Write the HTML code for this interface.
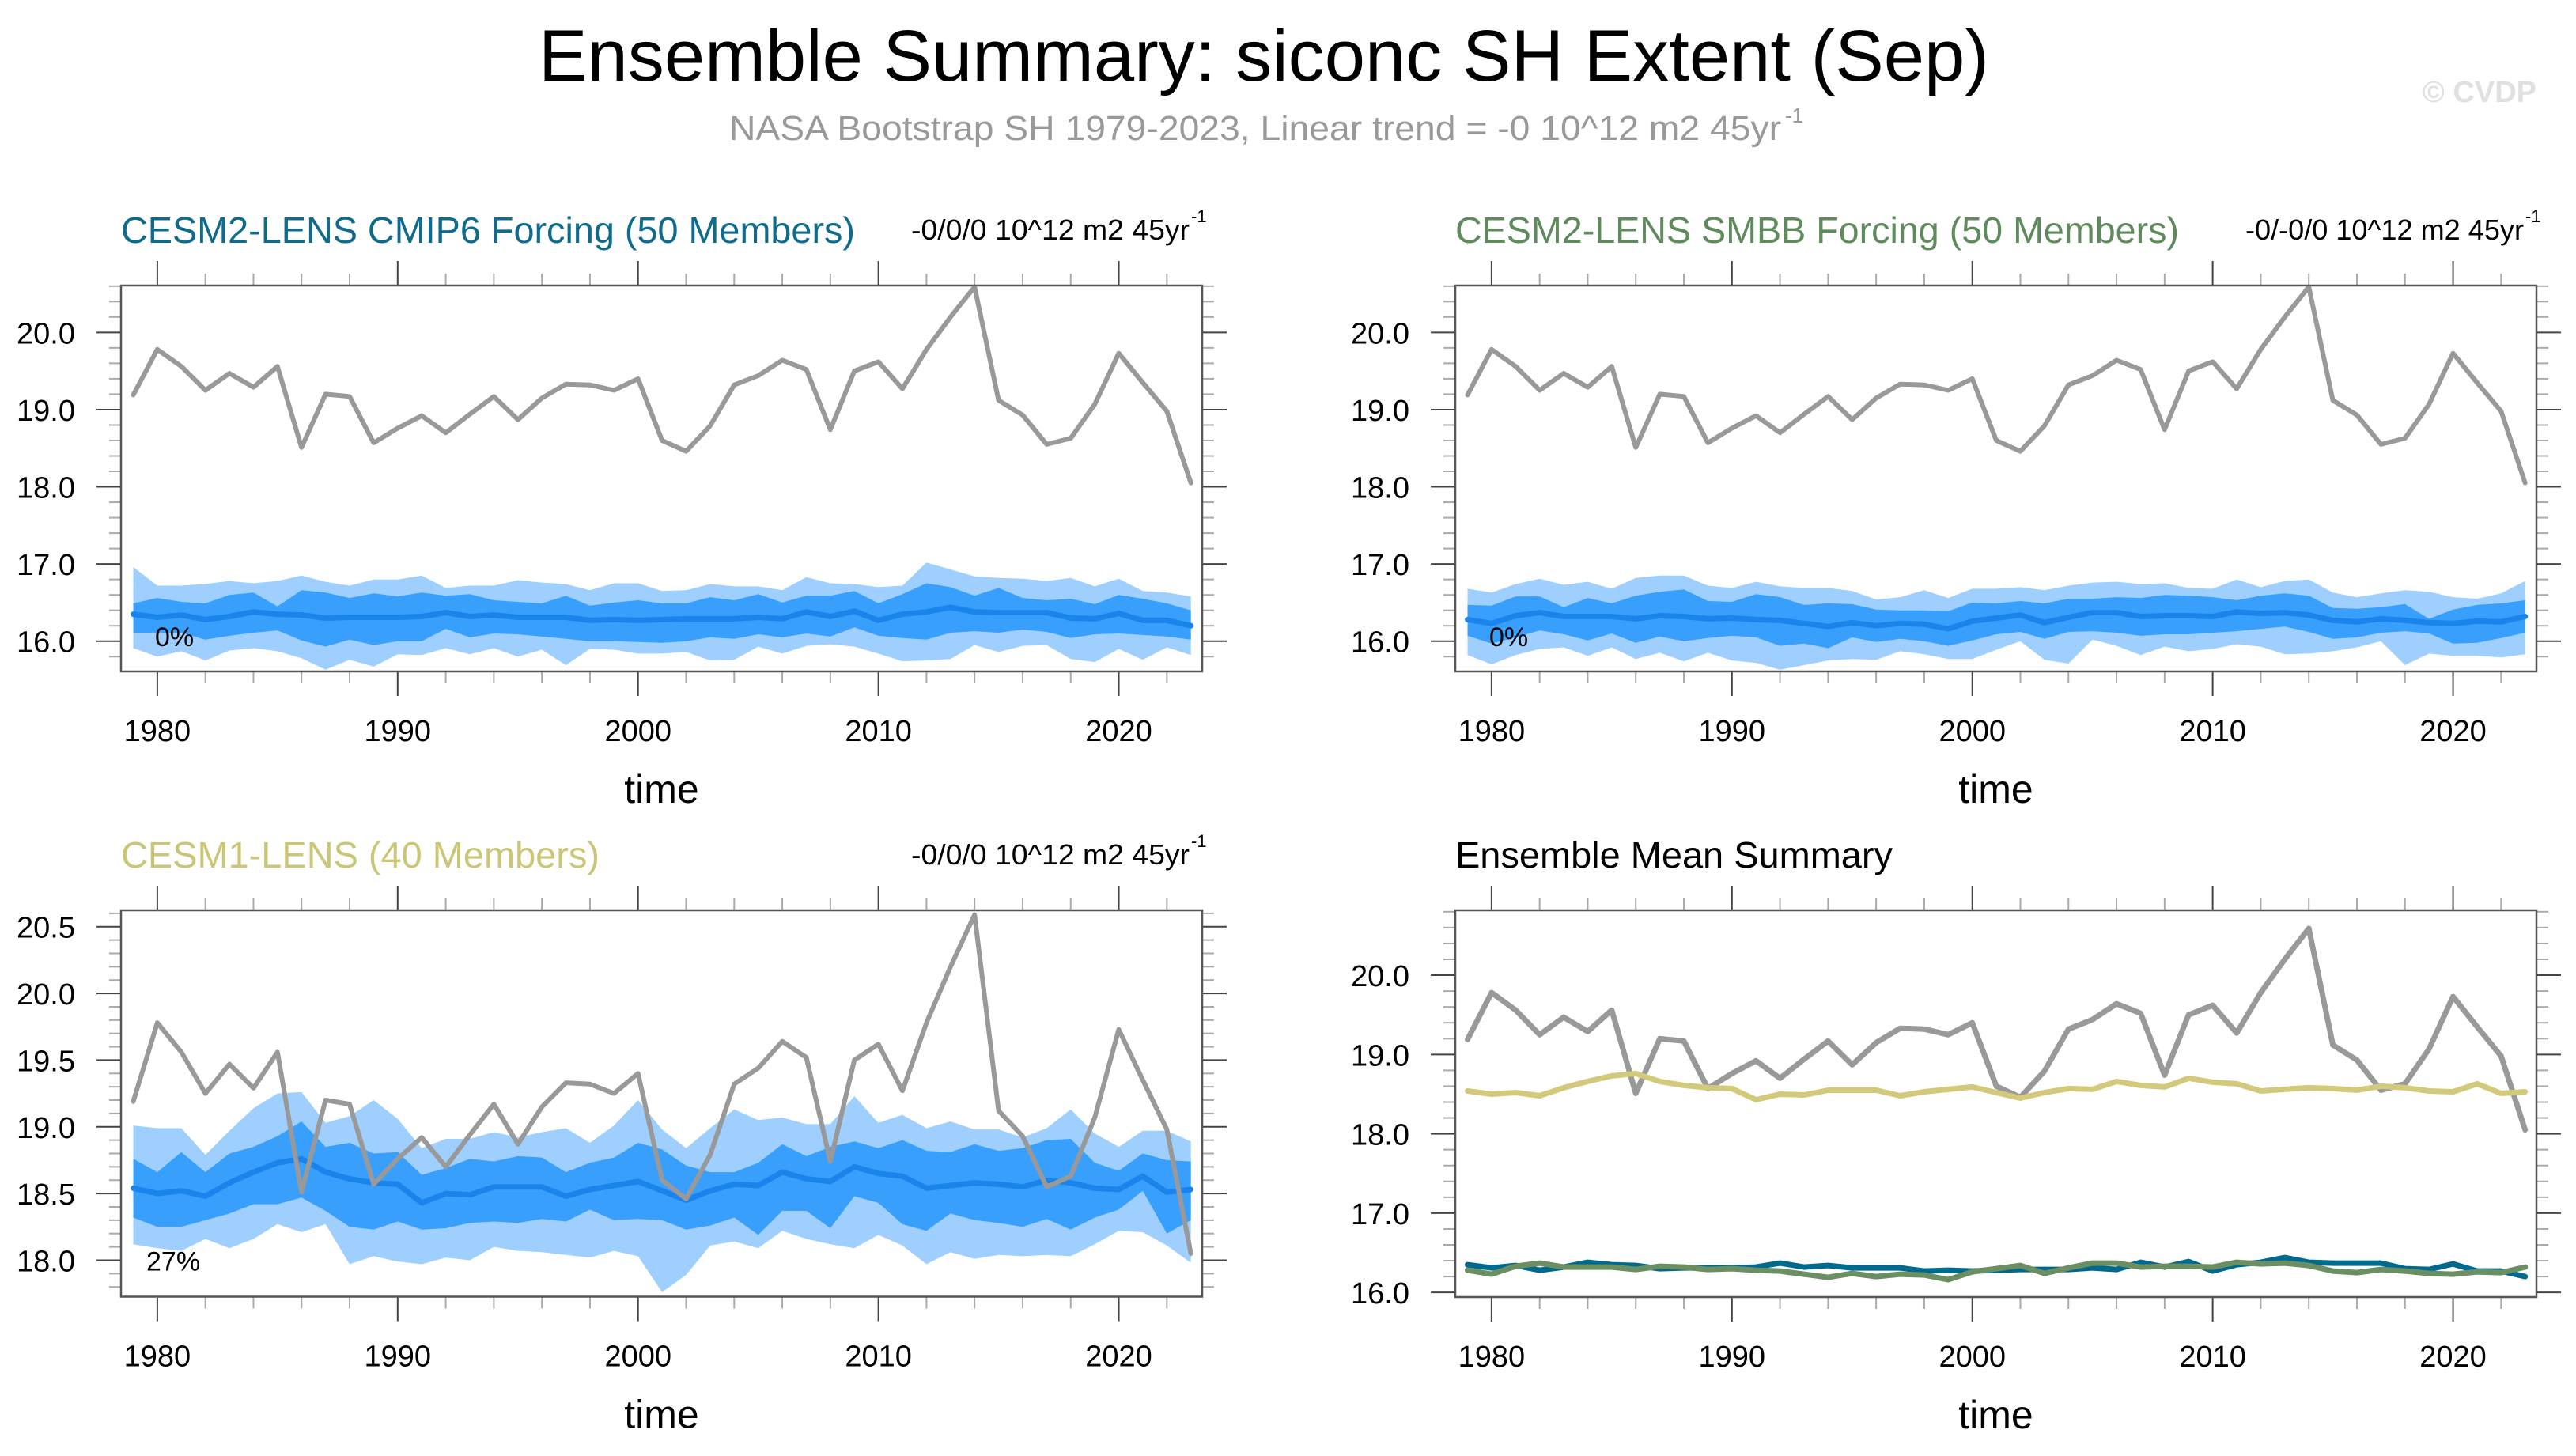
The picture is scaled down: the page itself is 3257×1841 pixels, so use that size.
<!DOCTYPE html>
<html><head><meta charset="utf-8"><style>
html,body{margin:0;padding:0;background:#fff;}
svg{display:block;font-family:"Liberation Sans",Arial,sans-serif;}
</style></head><body>
<svg id="chart" width="3257" height="1841" viewBox="0 0 3257 1841" xmlns="http://www.w3.org/2000/svg">
<rect width="3257" height="1841" fill="#fff"/>
<text x="1598" y="102" text-anchor="middle" font-size="92" fill="#000" textLength="1834" lengthAdjust="spacingAndGlyphs">Ensemble Summary: siconc SH Extent (Sep)</text>
<text x="922" y="177" font-size="44" fill="#999" textLength="1330" lengthAdjust="spacingAndGlyphs">NASA Bootstrap SH 1979-2023, Linear trend = -0 10^12 m2 45yr</text>
<text x="2257" y="155" font-size="26" fill="#999">-1</text>
<text x="3207" y="129" text-anchor="end" font-size="38" font-weight="bold" fill="#e0e0e0">© CVDP</text>
<g id="plots"></g>
</svg>
<script>
const years = [1979,1980,1981,1982,1983,1984,1985,1986,1987,1988,1989,1990,1991,1992,1993,1994,1995,1996,1997,1998,1999,2000,2001,2002,2003,2004,2005,2006,2007,2008,2009,2010,2011,2012,2013,2014,2015,2016,2017,2018,2019,2020,2021,2022,2023];
const obs = [19.19,19.78,19.56,19.25,19.47,19.29,19.56,18.51,19.20,19.17, 18.57,18.76,18.92,18.70,18.94,19.17,18.87,19.15,19.33,19.32, 19.25,19.40,18.60,18.46,18.79,19.32,19.44,19.64,19.52,18.74, 19.50,19.62,19.27,19.78,20.20,20.59,19.12,18.93,18.55,18.63, 19.07,19.73,19.35,18.98,18.05];

const cmip6Mean = [16.35,16.31,16.34,16.28,16.32,16.38,16.35,16.34,16.30,16.31, 16.31,16.31,16.32,16.37,16.32,16.34,16.31,16.31,16.31,16.27, 16.28,16.27,16.28,16.29,16.29,16.29,16.31,16.29,16.38,16.32, 16.39,16.27,16.35,16.38,16.44,16.38,16.37,16.37,16.37,16.30, 16.29,16.36,16.27,16.27,16.20];
const cmip6OuterHi = [16.96,16.72,16.72,16.74,16.78,16.75,16.78,16.85,16.77,16.72, 16.80,16.80,16.85,16.69,16.72,16.72,16.79,16.76,16.74,16.66, 16.75,16.75,16.65,16.66,16.74,16.71,16.71,16.66,16.83,16.75, 16.74,16.70,16.72,17.02,16.93,16.84,16.82,16.81,16.78,16.82, 16.71,16.81,16.65,16.63,16.58];
const cmip6InnerHi = [16.49,16.56,16.51,16.49,16.60,16.63,16.45,16.66,16.63,16.56, 16.62,16.58,16.63,16.59,16.61,16.53,16.51,16.49,16.59,16.46, 16.50,16.53,16.49,16.49,16.57,16.53,16.61,16.50,16.59,16.59, 16.65,16.49,16.61,16.75,16.70,16.59,16.69,16.56,16.53,16.55, 16.48,16.60,16.55,16.49,16.40];
const cmip6InnerLo = [16.11,16.11,16.11,16.02,16.07,16.11,16.14,16.01,15.93,16.02, 15.95,16.00,16.00,16.16,16.05,16.10,16.09,16.06,16.03,16.00, 16.00,15.99,15.98,16.00,16.05,16.03,16.09,16.05,16.10,16.06, 16.18,16.07,16.04,16.02,16.11,16.13,16.11,16.15,16.12,16.04, 16.09,16.10,16.08,16.06,16.02];
const cmip6OuterLo = [15.91,15.80,15.87,15.75,15.88,15.91,15.87,15.78,15.63,15.76, 15.67,15.83,15.82,15.91,15.83,15.91,15.80,15.89,15.69,15.90, 15.89,15.84,15.84,15.86,15.75,15.76,15.93,15.84,15.94,15.96, 15.93,15.84,15.74,15.75,15.77,15.95,15.86,15.94,15.95,15.77, 15.73,15.90,15.76,15.92,15.82];

const smbbMean = [16.28,16.23,16.33,16.37,16.32,16.32,16.32,16.29,16.33,16.32, 16.29,16.30,16.28,16.27,16.23,16.19,16.24,16.20,16.23,16.22, 16.16,16.26,16.30,16.34,16.24,16.31,16.37,16.37,16.32,16.33, 16.33,16.32,16.38,16.36,16.37,16.34,16.27,16.25,16.29,16.27, 16.24,16.23,16.26,16.25,16.32];
const smbbOuterHi = [16.68,16.63,16.74,16.81,16.73,16.77,16.68,16.82,16.85,16.85, 16.72,16.69,16.77,16.71,16.69,16.69,16.65,16.54,16.57,16.66, 16.56,16.68,16.68,16.70,16.66,16.72,16.76,16.77,16.74,16.75, 16.69,16.68,16.80,16.70,16.78,16.80,16.63,16.57,16.62,16.66, 16.64,16.57,16.55,16.62,16.78];
const smbbInnerHi = [16.47,16.46,16.58,16.58,16.44,16.56,16.49,16.59,16.64,16.67, 16.52,16.51,16.61,16.57,16.47,16.49,16.48,16.41,16.40,16.40, 16.39,16.50,16.49,16.52,16.49,16.55,16.55,16.57,16.56,16.60, 16.59,16.57,16.53,16.59,16.62,16.59,16.43,16.42,16.44,16.48, 16.29,16.41,16.47,16.49,16.53];
const smbbInnerLo = [16.07,15.97,16.05,16.14,16.09,16.01,16.10,15.98,16.06,16.00, 16.04,16.07,16.05,15.94,15.97,15.91,16.05,15.99,16.03,16.00, 15.94,16.01,16.09,16.12,16.03,16.12,16.13,16.11,16.07,16.09, 16.09,16.11,16.13,16.16,16.19,16.12,16.03,16.05,16.11,16.13, 16.10,15.97,15.98,16.04,16.11];
const smbbOuterLo = [15.82,15.70,15.82,15.90,15.92,15.81,15.92,15.77,15.85,15.74, 15.85,15.75,15.72,15.63,15.69,15.75,15.77,15.76,15.87,15.83, 15.77,15.77,15.89,16.00,15.76,15.71,16.02,15.94,15.82,15.93, 15.87,15.90,15.96,15.93,15.83,15.84,15.87,15.92,16.00,15.69, 15.84,15.81,15.81,15.79,15.83];

const cesm1Mean = [18.54,18.50,18.52,18.48,18.58,18.66,18.73,18.76,18.66,18.61, 18.58,18.57,18.43,18.50,18.49,18.55,18.55,18.55,18.48,18.53, 18.56,18.59,18.52,18.45,18.52,18.57,18.56,18.66,18.61,18.59, 18.70,18.65,18.63,18.54,18.56,18.58,18.57,18.55,18.60,18.58, 18.54,18.53,18.63,18.51,18.53];
const cesm1OuterHi = [19.01,18.99,18.99,18.79,18.97,19.14,19.25,19.26,19.03,19.08, 19.20,19.06,18.84,18.91,18.91,18.96,18.92,18.96,18.99,18.88, 19.01,19.20,18.98,18.84,18.99,19.13,19.05,19.07,19.02,19.02, 19.23,19.03,19.09,18.99,19.04,18.98,18.98,18.92,18.99,19.13, 18.95,18.85,18.97,18.97,18.89];
const cesm1InnerHi = [18.76,18.66,18.81,18.66,18.80,18.85,18.93,19.04,18.85,18.88, 18.80,18.81,18.64,18.69,18.76,18.74,18.78,18.77,18.66,18.73, 18.77,18.88,18.83,18.71,18.66,18.66,18.73,18.87,18.78,18.85, 18.89,18.84,18.90,18.82,18.81,18.87,18.82,18.84,18.90,18.91, 18.73,18.67,18.80,18.75,18.74];
const cesm1InnerLo = [18.32,18.25,18.25,18.30,18.35,18.42,18.42,18.47,18.37,18.25, 18.23,18.29,18.23,18.24,18.28,18.29,18.28,18.31,18.29,18.38, 18.30,18.31,18.30,18.23,18.26,18.32,18.19,18.37,18.37,18.24, 18.48,18.43,18.27,18.22,18.35,18.30,18.28,18.25,18.31,18.23, 18.32,18.38,18.52,18.20,18.30];
const cesm1OuterLo = [18.12,18.09,18.07,18.16,18.09,18.16,18.27,18.21,18.27,17.97, 18.03,17.99,17.97,18.02,18.00,18.10,18.07,18.06,18.04,18.02, 18.07,18.03,17.76,17.89,18.11,18.14,18.09,18.22,18.16,18.12, 18.09,18.19,18.11,17.97,18.06,18.01,18.04,18.03,18.04,18.03, 18.12,18.22,18.21,18.11,17.98];

const xTickYears = [1980,1990,2000,2010,2020];
const topYTicks = ["16.0","17.0","18.0","19.0","20.0"];
const cesm1YTicks = ["18.0","18.5","19.0","19.5","20.0","20.5"];

const NS = "http://www.w3.org/2000/svg";
const root = document.getElementById("plots");
function mk(tag, attrs, parent) {
  const e = document.createElementNS(NS, tag);
  for (const k in attrs) e.setAttribute(k, attrs[k]);
  (parent || root).appendChild(e);
  return e;
}
const XMIN = 1978.49, XMAX = 2023.47;

function makePanel(cfg) {
  const g = mk("g", {});
  
  
  const x0 = cfg.x0, x1 = cfg.x0 + 1367, y0 = cfg.y0, y1 = cfg.y1;
  const xs = v => x0 + (v - XMIN) / (XMAX - XMIN) * (x1 - x0);
  const ys = v => y1 - (v - cfg.ymin) / (cfg.ymax - cfg.ymin) * (y1 - y0);
  const tg = mk("g", {}, g);
  
  
  for (let yr = 1980; yr <= 2022; yr += 2) {
    const major = yr % 10 === 0;
    const L = major ? 31 : 15;
    const X = xs(yr);
    const c = major ? "#444" : "#aaa";
    mk("line", {x1: X, x2: X, y1: y1, y2: y1 + L, stroke: c, "stroke-width": 2}, tg);
    mk("line", {x1: X, x2: X, y1: y0, y2: y0 - L, stroke: c, "stroke-width": 2}, tg);
  }
  const nMinor = Math.round((cfg.ymax - cfg.ymin) / cfg.minor) + 2;
  const start = Math.ceil(cfg.ymin / cfg.minor - 1e-6) * cfg.minor;
  for (let i = 0; i < nMinor; i++) {
    const v = start + i * cfg.minor;
    if (v > cfg.ymax + 1e-6) break;
    const major = Math.abs(v / cfg.major - Math.round(v / cfg.major)) < 1e-4;
    const L = major ? 31 : 15;
    const Y = ys(v);
    const c = major ? "#444" : "#aaa";
    mk("line", {x1: x0, x2: x0 - L, y1: Y, y2: Y, stroke: c, "stroke-width": 2}, tg);
    mk("line", {x1: x1, x2: x1 + L, y1: Y, y2: Y, stroke: c, "stroke-width": 2}, tg);
  }
  const band = (hi, lo, color, nm) => {
    let d = "";
    years.forEach((yr, i) => { d += (i ? "L" : "M") + xs(yr).toFixed(1) + "," + ys(hi[i]).toFixed(1); });
    for (let i = years.length - 1; i >= 0; i--) d += "L" + xs(years[i]).toFixed(1) + "," + ys(lo[i]).toFixed(1);
    const p = mk("path", {d: d + "Z", fill: color}, g);
    
    
  };
  const line = (vals, color, w, nm) => {
    const pts = years.map((yr, i) => xs(yr).toFixed(1) + "," + ys(vals[i]).toFixed(1)).join(" ");
    const p = mk("polyline", {points: pts, fill: "none", stroke: color, "stroke-width": w, "stroke-linejoin": "round", "stroke-linecap": "round"}, g);
    
    
  };
  if (cfg.bands) {
    band(cfg.bands[0], cfg.bands[3], "#9ecfff", "outer-spread-band");
    band(cfg.bands[1], cfg.bands[2], "#389ffc", "inner-spread-band");
    line(cfg.bands[4], "#1a84ec", 7, "ensemble-mean-line");
    line(obs, "#999", 6, "observed-line");
  }
  if (cfg.lines) cfg.lines.forEach(l => line(l[0], l[1], 7, l[2]));
  const fr = mk("rect", {x: x0, y: y0, width: x1 - x0, height: y1 - y0, fill: "none", stroke: "#555", "stroke-width": 2.5}, g);
  
  
  cfg.yLabels.forEach(s => {
    const t = mk("text", {x: x0 - 58, y: ys(parseFloat(s)) + 14, "text-anchor": "end", "font-size": 38, fill: "#000"}, g);
    t.textContent = s;
    
    
  });
  xTickYears.forEach(yr => {
    const t = mk("text", {x: xs(yr), y: y1 + 88, "text-anchor": "middle", "font-size": 38, fill: "#000"}, g);
    t.textContent = String(yr);
    
    
  });
  const xt = mk("text", {x: (x0 + x1) / 2, y: y1 + 166, "text-anchor": "middle", "font-size": 50, fill: "#000"}, g);
  xt.textContent = "time";
  
  
  const tt = mk("text", {x: x0, y: y0 - 54, "font-size": 46, fill: cfg.titleColor, textLength: cfg.titleLen, lengthAdjust: "spacingAndGlyphs"}, g);
  tt.textContent = cfg.title;
  
  
  if (cfg.trend) {
    const tr = mk("text", {x: x1 - 16, y: y0 - 58, "text-anchor": "end", "font-size": 36, fill: "#000", textLength: cfg.trendLen, lengthAdjust: "spacingAndGlyphs"}, g);
    tr.textContent = cfg.trend;
    
    
    const sp = mk("text", {x: x1 - 14, y: y0 - 80, "font-size": 22, fill: "#000"}, g);
    sp.textContent = "-1";
    
    
  }
  if (cfg.pct) {
    const pt = mk("text", {x: cfg.pctX, y: y1 - cfg.pctDy, "font-size": 34, fill: "#000"}, g);
    pt.textContent = cfg.pct;
    
    
  }
}

makePanel({name: "cmip6-panel", x0: 153, y0: 361, y1: 849, ymin: 15.608, ymax: 20.608, major: 1, minor: 0.2,
  yLabels: topYTicks, title: "CESM2-LENS CMIP6 Forcing (50 Members)", titleColor: "#0f6b8c", titleLen: 928,
  trend: "-0/0/0 10^12 m2 45yr", trendLen: 352, bands: [cmip6OuterHi, cmip6InnerHi, cmip6InnerLo, cmip6OuterLo, cmip6Mean],
  pct: "0%", pctX: 196, pctDy: 32});
makePanel({name: "smbb-panel", x0: 1840, y0: 361, y1: 849, ymin: 15.608, ymax: 20.608, major: 1, minor: 0.2,
  yLabels: topYTicks, title: "CESM2-LENS SMBB Forcing (50 Members)", titleColor: "#5f8a5c", titleLen: 915,
  trend: "-0/-0/0 10^12 m2 45yr", trendLen: 352, bands: [smbbOuterHi, smbbInnerHi, smbbInnerLo, smbbOuterLo, smbbMean],
  pct: "0%", pctX: 1883, pctDy: 32});
makePanel({name: "cesm1-panel", x0: 153, y0: 1151, y1: 1639.5, ymin: 17.727, ymax: 20.623, major: 0.5, minor: 0.1,
  yLabels: cesm1YTicks, title: "CESM1-LENS (40 Members)", titleColor: "#cbc676", titleLen: 605,
  trend: "-0/0/0 10^12 m2 45yr", trendLen: 352, bands: [cesm1OuterHi, cesm1InnerHi, cesm1InnerLo, cesm1OuterLo, cesm1Mean],
  pct: "27%", pctX: 185, pctDy: 33});
makePanel({name: "ensemble-mean-panel", x0: 1840, y0: 1151, y1: 1640, ymin: 15.942, ymax: 20.818, major: 1, minor: 0.2,
  yLabels: topYTicks, title: "Ensemble Mean Summary", titleColor: "#000", titleLen: 553,
  lines: [[obs, "#999", "observed-line"], [cesm1Mean, "#d2ca7a", "cesm1-mean-line"], [cmip6Mean, "#006a8e", "cmip6-mean-line"], [smbbMean, "#6b8e62", "smbb-mean-line"]]});
</script>
</body></html>
